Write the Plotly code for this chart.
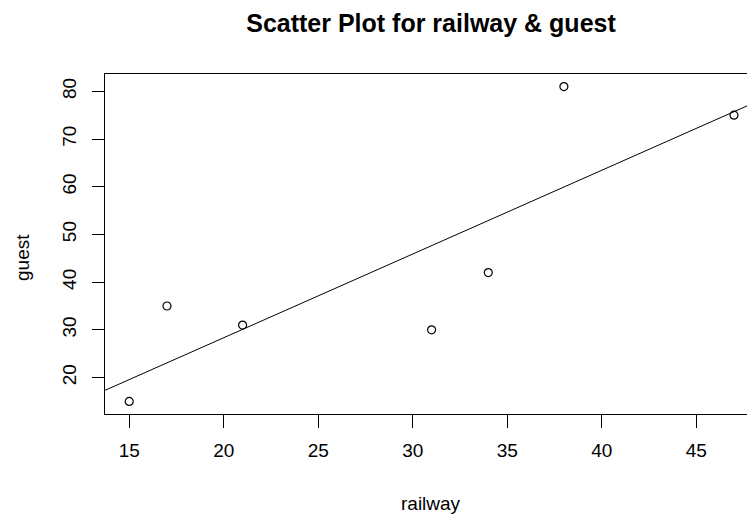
import numpy as np
import plotly.graph_objects as go

railway = [15, 17, 21, 31, 34, 38, 47]
guest = [15, 35, 31, 30, 42, 81, 75]
x_ticks = [15, 20, 25, 30, 35, 40, 45]
y_ticks = [20, 30, 40, 50, 60, 70, 80]

FW, FH = 747, 514
L, T = 105, 74
BOT = 414
B = FH - BOT
W, H = FW - L, BOT - T
px_per_x = 18.9
xr = [13.72, 13.72 + W / px_per_x]
yr = [12.36, 83.64]

slope, intercept = np.polyfit(railway, guest, 1)
line_x = [xr[0] - 1, xr[1] + 1]
line_y = [intercept + slope * v for v in line_x]

fig = go.Figure()
fig.add_trace(go.Scatter(x=line_x, y=line_y, mode="lines",
                         line=dict(color="black", width=1), hoverinfo="skip"))
fig.add_trace(go.Scatter(x=railway, y=guest, mode="markers",
                         marker=dict(symbol="circle-open", size=8, color="black",
                                     line=dict(width=1.2, color="black"))))

font = "Liberation Sans, Arial, sans-serif"
fig.update_layout(
    width=FW, height=FH,
    margin=dict(l=L, r=0, t=T, b=B, autoexpand=False),
    plot_bgcolor="white", paper_bgcolor="white",
    showlegend=False,
    font=dict(family=font, size=19, color="black"),
    title=dict(text="<b>Scatter Plot for railway & guest</b>", x=431 / FW, xanchor="center",
               y=1 - 23 / FH, yanchor="middle", font=dict(size=25, family=font, color="black")),
    xaxis=dict(range=xr, tickvals=x_ticks, showgrid=False, zeroline=False, automargin=False,
               showline=True, linecolor="black", linewidth=1, mirror=True,
               ticks="outside", ticklen=13, tickcolor="black", tickwidth=1,
               ticklabelstandoff=6, tickfont=dict(size=19, family=font, color="black")),
    yaxis=dict(range=yr, tickvals=y_ticks, showgrid=False, zeroline=False, automargin=False,
               showline=True, linecolor="black", linewidth=1, mirror=False,
               ticks="outside", ticklen=12, tickcolor="black", tickwidth=1,
               tickangle=-90, ticklabelstandoff=8,
               tickfont=dict(size=19, family=font, color="black")),
    annotations=[
        dict(text="railway", xref="paper", yref="paper", x=(431 - L) / W,
             y=-(503 - BOT) / H, xanchor="center", yanchor="middle", showarrow=False,
             font=dict(size=19, family=font, color="black")),
        dict(text="guest", xref="paper", yref="paper", x=-(L - 22) / W, y=(BOT - 258) / H,
             xanchor="center", yanchor="middle", showarrow=False, textangle=-90,
             font=dict(size=19, family=font, color="black")),
    ],
)

fig.write_html("out.html", config={"displayModeBar": False},
               post_script="document.body.style.margin='0px';document.body.style.padding='0px';")
